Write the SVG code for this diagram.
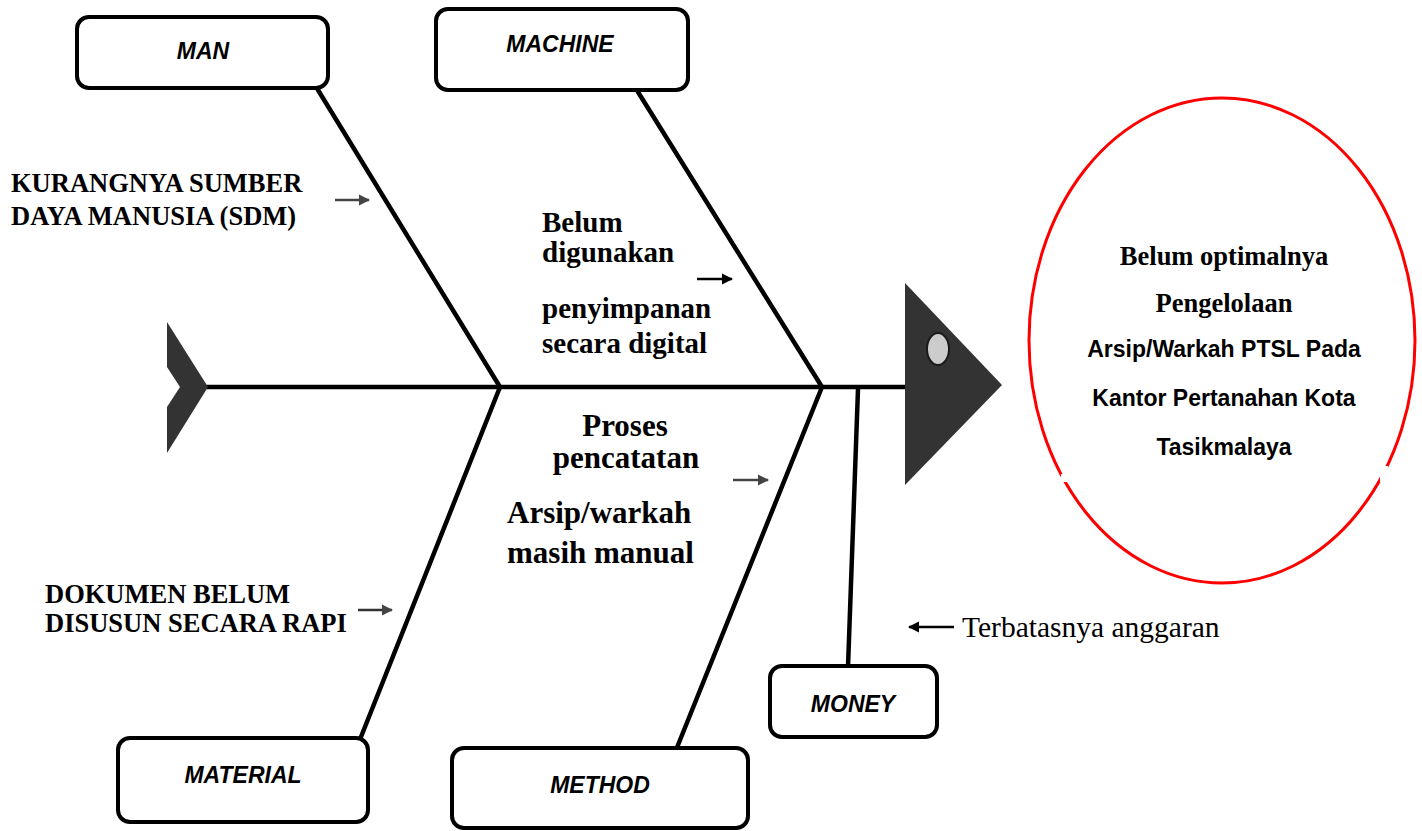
<svg xmlns="http://www.w3.org/2000/svg" width="1422" height="831" viewBox="0 0 1422 831">
<style>
.box{fill:#fff;stroke:#000;stroke-width:4}
.cat{font-family:"Liberation Sans",Arial,sans-serif;font-weight:bold;font-style:italic;font-size:23px;text-anchor:middle;fill:#000}
.bone{stroke:#000;stroke-width:4.5;fill:none;stroke-linecap:round}
.tb{font-family:"Liberation Serif","Times New Roman",serif;font-weight:bold;fill:#000}
.sb{font-family:"Liberation Sans",Arial,sans-serif;font-weight:bold;font-size:23px;fill:#000;text-anchor:middle}
.arr{stroke-width:2.5;fill:none}
</style>
<defs>
<marker id="ahk" viewBox="0 0 10 10" refX="9" refY="5" markerWidth="4.5" markerHeight="4.5" orient="auto" markerUnits="strokeWidth"><path d="M0,0 L10,5 L0,10 Z" fill="#000"/></marker>
<marker id="ahg" viewBox="0 0 10 10" refX="9" refY="5" markerWidth="4.5" markerHeight="4.5" orient="auto" markerUnits="strokeWidth"><path d="M0,0 L10,5 L0,10 Z" fill="#444"/></marker>
</defs>
<rect width="1422" height="831" fill="#fff"/>

<g id="connectors">
<line class="bone" x1="207" y1="387" x2="905" y2="387" stroke-width="5"/>
<line class="bone" x1="318" y1="90" x2="500" y2="387"/>
<line class="bone" x1="638" y1="92" x2="822" y2="387"/>
<line class="bone" x1="500" y1="387" x2="355" y2="752"/>
<line class="bone" x1="822" y1="387" x2="676" y2="750"/>
<line class="bone" x1="858" y1="389" x2="848" y2="667"/>
<line class="arr" x1="335" y1="200" x2="369" y2="200" stroke="#444" marker-end="url(#ahg)"/>
<line class="arr" x1="358" y1="610" x2="392" y2="610" stroke="#333" marker-end="url(#ahg)"/>
<line class="arr" x1="697" y1="279" x2="732" y2="279" stroke="#000" marker-end="url(#ahk)"/>
<line class="arr" x1="733" y1="480" x2="768" y2="480" stroke="#444" marker-end="url(#ahg)"/>
<line class="arr" x1="954" y1="627" x2="909" y2="627" stroke="#000" marker-end="url(#ahk)"/>
</g>

<g id="tail">
<polygon points="167,322 208,387 167,453 167,407 180,387 167,367" fill="#333"/>
</g>

<g id="head">
<polygon points="905,283 1002,385 905,485" fill="#333"/>
<ellipse cx="938" cy="349" rx="11" ry="16" fill="#ccc" stroke="#1a1a1a" stroke-width="2"/>
</g>

<g id="man">
<rect class="box" x="77" y="17" width="251" height="71" rx="12"/>
<text class="cat" x="203" y="59">MAN</text>
</g>
<g id="machine">
<rect class="box" x="436" y="9" width="252" height="81" rx="12"/>
<text class="cat" x="560" y="52">MACHINE</text>
</g>
<g id="material">
<rect class="box" x="118" y="738" width="250" height="84" rx="12"/>
<text class="cat" x="243" y="783">MATERIAL</text>
</g>
<g id="method">
<rect class="box" x="452" y="748" width="296" height="80" rx="12"/>
<text class="cat" x="600" y="793">METHOD</text>
</g>
<g id="money">
<rect class="box" x="770" y="666" width="167" height="71" rx="12"/>
<text class="cat" x="853" y="712">MONEY</text>
</g>

<g id="cause-sdm">
<text class="tb" font-size="26.5" x="11" y="192">KURANGNYA SUMBER</text>
<text class="tb" font-size="26.5" x="11" y="225">DAYA MANUSIA (SDM)</text>
</g>
<g id="cause-dokumen">
<text class="tb" font-size="26.5" x="45" y="603">DOKUMEN BELUM</text>
<text class="tb" font-size="26.5" x="45" y="632">DISUSUN SECARA RAPI</text>
</g>
<g id="cause-digital">
<text class="tb" font-size="29" x="542" y="232">Belum</text>
<text class="tb" font-size="29" x="542" y="262">digunakan</text>
<text class="tb" font-size="29" x="542" y="318">penyimpanan</text>
<text class="tb" font-size="29" x="542" y="353">secara digital</text>
</g>
<g id="cause-manual">
<text class="tb" font-size="31" x="625" y="436" text-anchor="middle">Proses</text>
<text class="tb" font-size="31" x="626" y="468" text-anchor="middle">pencatatan</text>
<text class="tb" font-size="31" x="507" y="523">Arsip/warkah</text>
<text class="tb" font-size="31" x="507" y="563">masih manual</text>
</g>
<g id="cause-anggaran">
<text font-family="Liberation Serif,'Times New Roman',serif" font-size="29.5" x="962" y="637" fill="#000">Terbatasnya anggaran</text>
</g>

<g id="effect">
<ellipse cx="1222" cy="340.5" rx="193" ry="242.5" fill="#fff" stroke="#f00" stroke-width="3"/>
<rect x="1061" y="474" width="8" height="8" fill="#fff"/>
<rect x="1380" y="466" width="8" height="16" fill="#fff"/>
<text class="tb" font-size="26.5" x="1224" y="265" text-anchor="middle">Belum optimalnya</text>
<text class="tb" font-size="26.5" x="1224" y="312" text-anchor="middle">Pengelolaan</text>
<text class="sb" x="1224" y="357">Arsip/Warkah PTSL Pada</text>
<text class="sb" x="1224" y="406">Kantor Pertanahan Kota</text>
<text class="sb" x="1224" y="455">Tasikmalaya</text>
</g>
</svg>
